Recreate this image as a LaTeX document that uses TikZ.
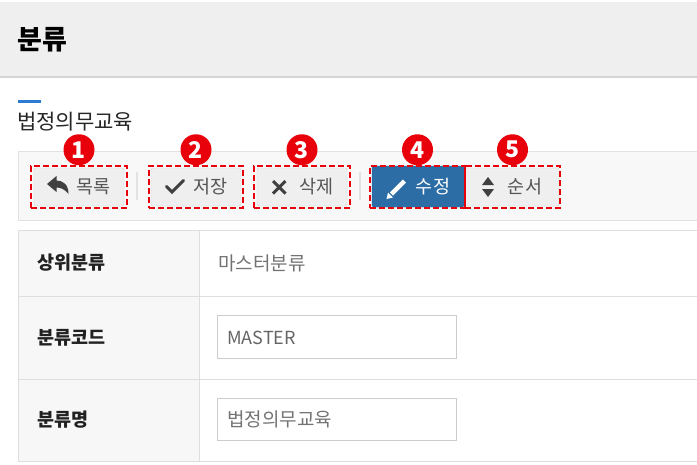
\documentclass[tikz,border=0pt]{standalone}
\usepackage{fontspec}
\setmainfont{Noto Sans CJK KR}
\usetikzlibrary{positioning}

\definecolor{headgray}{HTML}{EFEFEF}
\definecolor{headline}{HTML}{D4D4D4}
\definecolor{barfill}{HTML}{F8F8F8}
\definecolor{barline}{HTML}{E2E2E2}
\definecolor{btnfill}{HTML}{EFEFEF}
\definecolor{btnline}{HTML}{D2D2D2}
\definecolor{btntext}{HTML}{555555}
\definecolor{btnblue}{HTML}{2D6DA6}
\definecolor{markred}{HTML}{E8000B}
\definecolor{tabline}{HTML}{DEDEDE}
\definecolor{tabfill}{HTML}{F7F7F7}
\definecolor{inline}{HTML}{CCCCCC}
\definecolor{accent}{HTML}{2B7BD2}

\begin{document}
\begin{tikzpicture}[x=1pt,y=-1pt,
		btn/.style={draw=btnline, fill=btnfill, rounded corners=1.5pt, minimum width=90pt, minimum height=38pt, inner sep=0pt, text=btntext, font=\fontsize{18.5}{22}\selectfont},
		hl/.style={draw=markred, line width=2.5pt, dash pattern=on 6pt off 3pt, minimum height=42pt, inner sep=0pt},
		num/.style={circle, fill=markred, text=white, minimum size=31pt, inner sep=0pt, font=\fontsize{23}{23}\selectfont\bfseries},
		lbl/.style={anchor=west, inner sep=0pt, text=black!87, font=\fontsize{18.5}{22}\selectfont\bfseries},
		field/.style={draw=inline, fill=white, minimum width=239pt, minimum height=43pt, inner sep=0pt},
		icon/.style={draw=black!75, line width=3pt}]
	\useasboundingbox (0,0) rectangle (697,464);

	% header
	\fill[headgray] (0,1.5) rectangle (697,77);
	\draw[headline, line width=1.5pt] (0,77) -- (697,77);
	\node[anchor=west, inner sep=0pt, font=\fontsize{27}{31}\selectfont\bfseries] (title) at (17,40) {분류};

	\draw[accent, line width=2.5pt] (18,101.5) -- (41,101.5);
	\node[anchor=west, inner sep=0pt, text=black!85, font=\fontsize{21}{25}\selectfont] (sub) at (17,122) {법정의무교육};

	% toolbar
	\draw[barline, fill=barfill] (18,151) rectangle (698,220);
	\draw[barline, line width=1.2pt] (137,172) -- (137,200);
	\draw[barline, line width=1.2pt] (360,172) -- (360,200);

	\node[btn] (list) at (79,187) {\hspace{29pt}목록};
	\node[btn] (save) at (196,187) {\hspace{29pt}저장};
	\node[btn] (del) at (302,187) {\hspace{29pt}삭제};
	\node[btn, draw=btnblue, fill=btnblue, text=white, minimum width=92pt, minimum height=41pt] (edit) at (418,186.5) {\hspace{30pt}수정};
	\node[btn, minimum width=94pt] (order) at (512,187) {\hspace{26pt}순서};

	% icons
	\fill[black!75] (47,184) -- (56.5,176) -- (56.5,180.5) .. controls (63,180.5) and (68.5,184.5) .. (68.5,194)
		.. controls (65,189.5) and (61,187.5) .. (56.5,187.5) -- (56.5,192) -- cycle;
	\draw[icon, line cap=round] (166.5,186.5) -- (172,192) -- (183.5,180.5);
	\draw[icon] (273,181) -- (285.5,193.5) (285.5,181) -- (273,193.5);
	\draw[white, line width=4.5pt] (391.5,194) -- (404.5,181);
	\fill[white] (386.5,199) -- (388,192.5) -- (393,197.5) -- cycle;
	\fill[black!75] (482,185) -- (494,185) -- (488,177) -- cycle;
	\fill[black!75] (482,189) -- (494,189) -- (488,197) -- cycle;

	% red marks
	\node[hl, minimum width=96pt] (m1) at (79,187) {};
	\node[hl, minimum width=94pt] (m2) at (196,187) {};
	\node[hl, minimum width=96pt] (m3) at (302,187) {};
	\node[hl, minimum width=95pt] (m4) at (417.5,187) {};
	\node[hl, minimum width=95pt] (m5) at (512.5,187) {};
	\foreach \i in {1,...,5}
		\node[num] (n\i) at ([yshift=15pt]m\i.north) {\i};

	% table
	\fill[tabfill] (18,230) rectangle (199,461);
	\draw[tabline] (698,230) -- (18,230) -- (18,461) -- (698,461);
	\draw[tabline] (18,296) -- (698,296);
	\draw[tabline] (18,379) -- (698,379);
	\draw[tabline] (199,230) -- (199,461);

	\node[lbl] (parent) at (37,263) {상위분류};
	\node[lbl] (code) at (37,337.5) {분류코드};
	\node[lbl] (name) at (37,420) {분류명};

	\node[anchor=west, inner sep=0pt, text=black!55, font=\fontsize{19}{22}\selectfont] (pval) at (218,263) {마스터분류};
	\node[field] (cbox) at (336.5,337) {};
	\node[field, minimum height=42pt] (nbox) at (336.5,419) {};
	\node[anchor=west, inner sep=0pt, text=black!60, font=\fontsize{18}{22}\selectfont] (cval) at (227,337.5) {MASTER};
	\node[anchor=west, inner sep=0pt, text=black!55, font=\fontsize{19}{22}\selectfont] (nval) at (227,419.5) {법정의무교육};
\end{tikzpicture}
\end{document}
